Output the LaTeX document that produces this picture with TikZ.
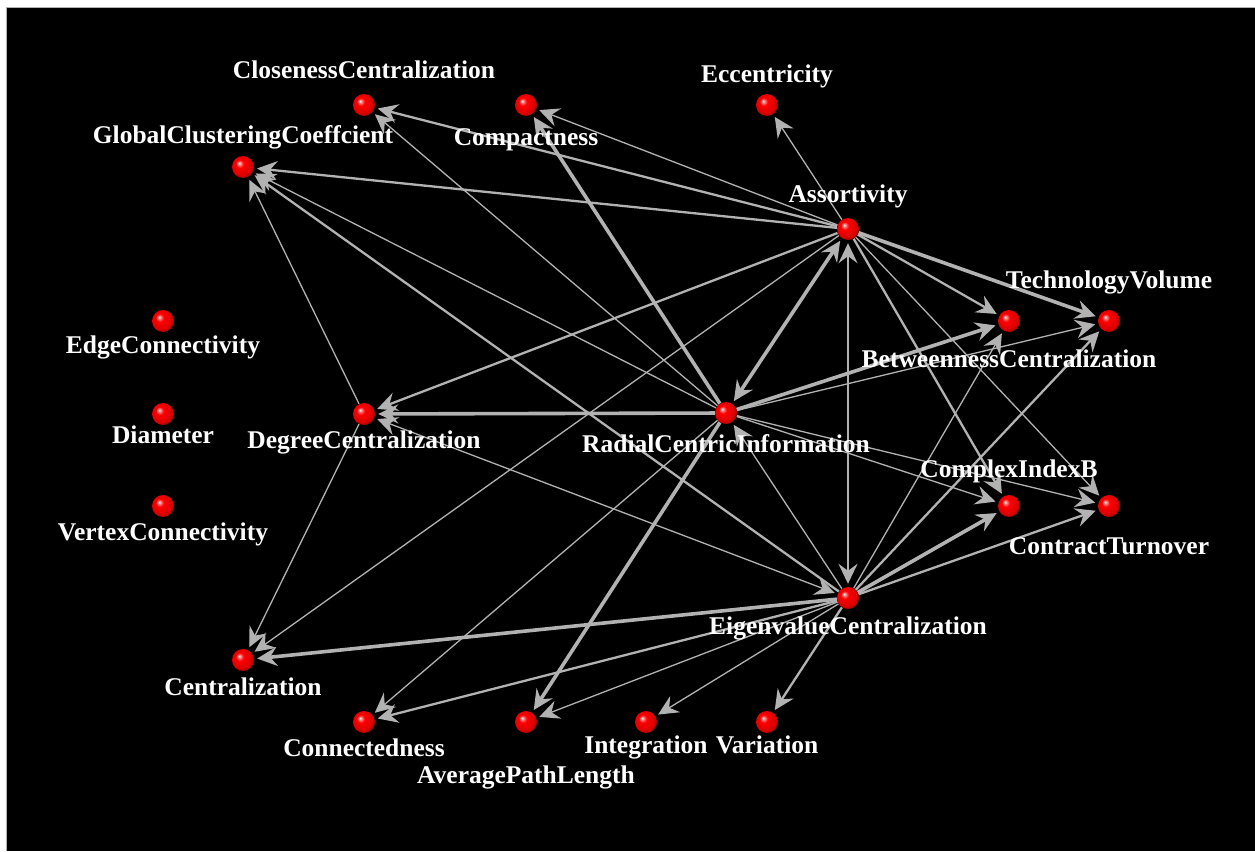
\documentclass[tikz,border=0pt]{standalone}
\usepackage{fontspec}
\setmainfont{Liberation Serif}
\usetikzlibrary{arrows.meta}
\definecolor{eg}{RGB}{178,178,178}
\pgfdeclareradialshading{redball}{\pgfpoint{-9bp}{9bp}}{color(0bp)=(white); color(3bp)=(red!45!white); color(9bp)=(red); color(24bp)=(red!85!black); color(32bp)=(red!45!black); color(50bp)=(red!45!black)}
\pgfdeclarelayer{back}
\pgfdeclarelayer{bg}
\pgfsetlayers{back,bg,main}
\tikzset{
  ball/.style={circle, inner sep=0pt, minimum size=22pt, shading=redball},
  lbl/.style={text=white, font=\bfseries\fontsize{25.5}{28}\selectfont, inner sep=0pt, anchor=base},
  tip/.style={-{Stealth[length=20pt,width=19pt,inset=7pt]}},
  ed/.style={draw=eg, shorten >=3pt, tip},
  bi/.style={draw=eg, shorten >=3pt, shorten <=3pt, {Stealth[length=20pt,width=19pt,inset=7pt]}-{Stealth[length=20pt,width=19pt,inset=7pt]}},
  w1/.style={line width=1.3pt},
  w2/.style={line width=2.3pt},
  w3/.style={line width=3.6pt},
}
\begin{document}
\begin{tikzpicture}[x=1pt,y=-1pt]
\useasboundingbox (0,0) rectangle (1255,851);
\begin{pgfonlayer}{back}
\fill[white] (0,0) rectangle (1255,851);
\fill[black] (6,8) rectangle (1255,851);
\draw[gray!60, line width=1pt] (6,851) -- (6,8) -- (1255,8);
\end{pgfonlayer}

% nodes
\node[ball] (cc)  at (364,105) {};
\node[ball] (cmp) at (526,105) {};
\node[ball] (ecc) at (767,105) {};
\node[ball] (gcc) at (243,167) {};
\node[ball] (ass) at (848,229) {};
\node[ball] (edg) at (163,321) {};
\node[ball] (bc)  at (1009,321) {};
\node[ball] (tv)  at (1109,321) {};
\node[ball] (dia) at (163,414) {};
\node[ball] (dc)  at (364,414) {};
\node[ball] (rci) at (726,413) {};
\node[ball] (vtx) at (163,506) {};
\node[ball] (cib) at (1009,506) {};
\node[ball] (ct)  at (1109,506) {};
\node[ball] (ec)  at (848,598) {};
\node[ball] (cen) at (243,660) {};
\node[ball] (con) at (364,722) {};
\node[ball] (apl) at (526,722) {};
\node[ball] (int) at (646,722) {};
\node[ball] (var) at (767,722) {};

% labels
\node[lbl] (ccl)  at (364,78)  {ClosenessCentralization};
\node[lbl] (cmpl) at (526,145) {Compactness};
\node[lbl] (eccl) at (767,82)  {Eccentricity};
\node[lbl] (gccl) at (243,143) {GlobalClusteringCoeffcient};
\node[lbl] (assl) at (848,202) {Assortivity};
\node[lbl] (edgl) at (163,353) {EdgeConnectivity};
\node[lbl] (bcl)  at (1009,367) {BetweennessCentralization};
\node[lbl] (tvl)  at (1109,288) {TechnologyVolume};
\node[lbl] (dial) at (163,443) {Diameter};
\node[lbl] (dcl)  at (364,448) {DegreeCentralization};
\node[lbl] (rcil) at (726,452) {RadialCentricInformation};
\node[lbl] (vtxl) at (163,540) {VertexConnectivity};
\node[lbl] (cibl) at (1009,477) {ComplexIndexB};
\node[lbl] (ctl)  at (1109,554) {ContractTurnover};
\node[lbl] (ecl)  at (848,634) {EigenvalueCentralization};
\node[lbl] (cenl) at (243,695) {Centralization};
\node[lbl] (conl) at (364,756) {Connectedness};
\node[lbl] (apll) at (526,783) {AveragePathLength};
\node[lbl] (intl) at (646,753) {Integration};
\node[lbl] (varl) at (767,753) {Variation};

\begin{pgfonlayer}{bg}
% from Assortivity
\draw[ed,w1] (ass) -- (ecc);
\draw[ed,w2] (ass) -- (cc);
\draw[ed,w1] (ass) -- (cmp);
\draw[ed,w2] (ass) -- (gcc);
\draw[ed,w2] (ass) -- (dc);
\draw[ed,w1] (ass) -- (cen);
\draw[bi,w3] (ass) -- (rci);
\draw[bi,w2] (ass) -- (ec);
\draw[ed,w2] (ass) -- (bc);
\draw[ed,w3] (ass) -- (tv);
\draw[ed,w2] (ass) -- (cib);
\draw[ed,w1] (ass) -- (ct);
% from RadialCentricInformation
\draw[ed,w3] (rci) -- (dc);
\draw[ed,w1] (rci) -- (gcc);
\draw[ed,w1] (rci) -- (cc);
\draw[ed,w3] (rci) -- (cmp);
\draw[ed,w3] (rci) -- (bc);
\draw[ed,w1] (rci) -- (tv);
\draw[ed,w1] (rci) -- (cib);
\draw[ed,w1] (rci) -- (ct);
\draw[ed,w1] (rci) -- (con);
\draw[ed,w3] (rci) -- (apl);
% from EigenvalueCentralization
\draw[ed,w1] (ec) -- (rci);
\draw[ed,w2] (ec) -- (gcc);
\draw[bi,w1] (ec) -- (dc);
\draw[ed,w3] (ec) -- (cen);
\draw[ed,w2] (ec) -- (con);
\draw[ed,w1] (ec) -- (apl);
\draw[ed,w1] (ec) -- (int);
\draw[ed,w2] (ec) -- (var);
\draw[ed,w1] (ec) -- (bc);
\draw[ed,w2] (ec) -- (tv);
\draw[ed,w3] (ec) -- (cib);
\draw[ed,w2] (ec) -- (ct);
% from DegreeCentralization
\draw[ed,w1] (dc) -- (gcc);
\draw[ed,w1] (dc) -- (cen);
\end{pgfonlayer}
\end{tikzpicture}
\end{document}
